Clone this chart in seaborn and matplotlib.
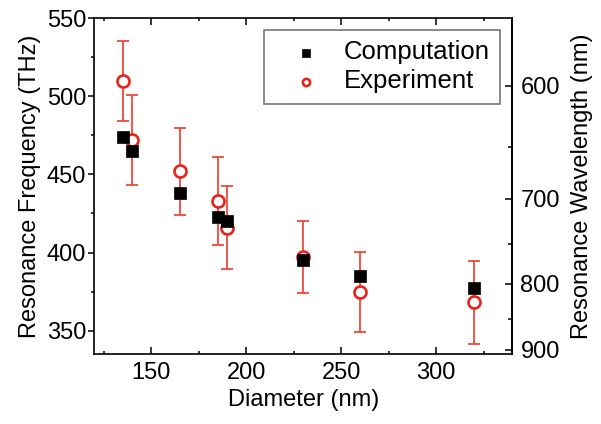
import numpy as np
import pandas as pd
import seaborn as sns
import matplotlib.pyplot as plt
from matplotlib.ticker import MultipleLocator, FixedLocator

# values
diameter = [135, 140, 165, 185, 190, 230, 260, 320]
computation = [474, 465, 438, 423, 420, 395, 385, 377]
experiment = [510, 472, 452, 433, 416, 397, 375, 368]
exp_err = [25.5, 29, 28, 28, 26.5, 23, 25.6, 26.7]

wl_major = [600, 700, 800, 900]
wl_minor = [550, 650, 750, 850]
k_conv = 304000  # freq (THz) * wavelength (nm), as drawn on the right axis

sns.set_style("ticks")
plt.rcParams['font.family'] = ['Liberation Sans', 'DejaVu Sans']
plt.rcParams['font.size'] = 17
for key in ['text.color', 'axes.labelcolor', 'xtick.color', 'ytick.color', 'axes.edgecolor']:
    plt.rcParams[key] = 'black'

fig, ax = plt.subplots(figsize=(6.01, 4.24), dpi=100)
fig.subplots_adjust(left=0.157, right=0.852, bottom=0.165, top=0.957)

red = '#e8231c'

# experiment error bars
ax.errorbar(diameter, experiment, yerr=exp_err, fmt='none',
            ecolor='#f04a3c', elinewidth=1.3, capsize=4.5, capthick=1.3, zorder=2)

sns.scatterplot(x=diameter, y=experiment, marker='o', s=75, color=red,
                facecolor='white', edgecolor=red, linewidth=1.9,
                label='Experiment', ax=ax, zorder=3)
sns.scatterplot(x=diameter, y=computation, marker='s', s=82, color='black',
                edgecolor='black', linewidth=0.5,
                label='Computation', ax=ax, zorder=4)

ax.set_xlim(120, 340)
ax.set_ylim(335, 550)
ax.xaxis.set_major_locator(MultipleLocator(50))
ax.xaxis.set_minor_locator(MultipleLocator(25))
ax.yaxis.set_major_locator(MultipleLocator(50))
ax.yaxis.set_minor_locator(MultipleLocator(25))

ax.set_xlabel('Diameter (nm)', fontsize=17, labelpad=3)
ax.set_ylabel('Resonance Frequency (THz)', fontsize=17, labelpad=4)

for sp in ax.spines.values():
    sp.set_linewidth(1.2)
    sp.set_color('black')

ax.tick_params(axis='x', which='both', direction='in', top=True, bottom=True,
               labelsize=17, width=1.1, pad=6)
ax.tick_params(axis='x', which='major', length=5)
ax.tick_params(axis='x', which='minor', length=2.5)
ax.tick_params(axis='y', which='both', direction='out', left=True, right=False,
               labelsize=17, width=1.1, pad=2)
ax.tick_params(axis='y', which='major', length=4)
ax.tick_params(axis='y', which='minor', length=2.5)

# right axis: wavelength
sec = ax.secondary_yaxis('right', functions=(lambda f: k_conv / f, lambda w: k_conv / w))
sec.yaxis.set_major_locator(FixedLocator(wl_major))
sec.yaxis.set_minor_locator(FixedLocator(wl_minor))
sec.tick_params(which='both', direction='in', labelsize=17, width=1.1, pad=6)
sec.tick_params(which='major', length=5)
sec.tick_params(which='minor', length=3)
sec.spines['right'].set_linewidth(1.2)
sec.set_ylabel('Resonance Wavelength (nm)', fontsize=17, labelpad=8)

handles, labels = ax.get_legend_handles_labels()
order = [labels.index('Computation'), labels.index('Experiment')]
leg = ax.legend([handles[i] for i in order], [labels[i] for i in order],
                loc='upper right', bbox_to_anchor=(0.972, 0.965), borderaxespad=0,
                fancybox=False, frameon=True, edgecolor='#555555', fontsize=18.5,
                markerscale=0.6, handletextpad=0.3, borderpad=0.4,
                labelspacing=0.2, handlelength=2.4)
leg.get_frame().set_linewidth(1.2)

fig.savefig('out.png', dpi=100)
